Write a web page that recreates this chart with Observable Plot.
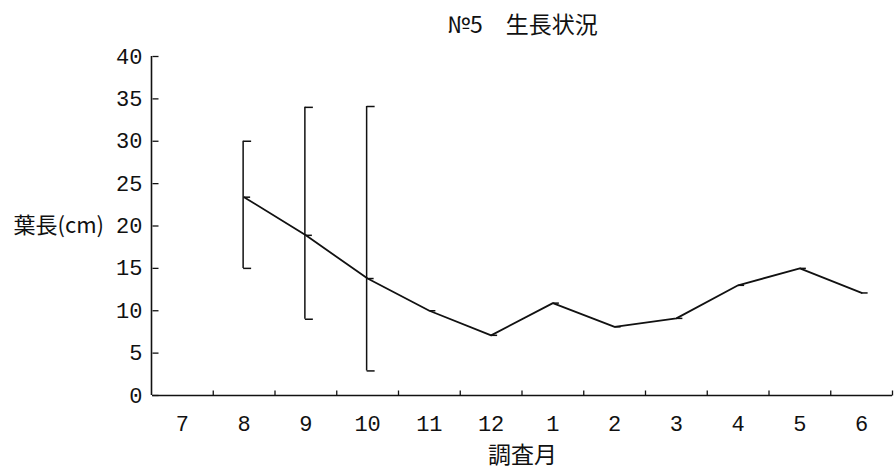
<!DOCTYPE html>
<html>
<head>
<meta charset="utf-8">
<script src="https://cdn.jsdelivr.net/npm/d3@7"></script>
<script src="https://cdn.jsdelivr.net/npm/@observablehq/plot@0.6"></script>
<style>
  html, body { margin: 0; padding: 0; background: #fff; }
  #chart svg { display: block; }
</style>
</head>
<body>
<div id="chart"></div>
<script>
const title = "№5　生長状況";
const yLabel = "葉長(cm)";
const xLabel = "調査月";
const months = ["7","8","9","10","11","12","1","2","3","4","5","6"];
const means  = [null, 23.4, 18.9, 13.8, 10.0, 7.1, 10.9, 8.1, 9.1, 13.0, 15.0, 12.1];
const lows   = [null, 15.0, 9.0, 2.9, null, null, null, null, null, null, null, null];
const highs  = [null, 30.0, 34.0, 34.1, null, null, null, null, null, null, null, null];
const yTicks = [0, 5, 10, 15, 20, 25, 30, 35, 40];

const rows = months.map((m, i) => ({i, m, mean: means[i], lo: lows[i], hi: highs[i]}));
const pts = rows.filter(d => d.mean != null);
const bars = rows.filter(d => d.lo != null);
const boundaries = months.map((m, i) => i + 0.5);
const xDomain = [-0.5, months.length - 0.5];

const rad = s => Math.sqrt(s / Math.PI);
const capRight = {draw(ctx, size) { const r = rad(size); ctx.moveTo(0, 0); ctx.lineTo(r, 0); }};
const capUp = {draw(ctx, size) { const r = rad(size); ctx.moveTo(0, 0); ctx.lineTo(0, -r); }};

const numFont = "'Liberation Mono', 'DejaVu Sans Mono', monospace";
const cjkFont = "'Noto Sans CJK JP', sans-serif";

const chart = Plot.plot({
  width: 894,
  height: 470,
  marginLeft: 152,
  marginRight: 2,
  marginTop: 56,
  marginBottom: 75,
  style: {fontFamily: numFont, background: "#fff", color: "#111"},
  x: {domain: xDomain, range: [151, 892], axis: null},
  y: {domain: [0, 40], axis: null},
  marks: [
    Plot.axisY({ticks: yTicks, tickSize: 0, tickPadding: 10, fontSize: 22, label: null, fontFamily: numFont}),
    Plot.axisX({ticks: months.map((m, i) => i), tickFormat: i => months[i], tickSize: 0, tickPadding: 20, fontSize: 22, label: null, fontFamily: numFont}),
    Plot.ruleX([xDomain[0]], {y1: 0, y2: 40, stroke: "#111", strokeWidth: 1.6}),
    Plot.ruleY([0], {stroke: "#111", strokeWidth: 1.6}),
    Plot.dot(yTicks, {y: d => d, frameAnchor: "left", symbol: capRight, r: 6, fill: "none", stroke: "#111", strokeWidth: 1.3}),
    Plot.dot(boundaries, {x: d => d, frameAnchor: "bottom", symbol: capUp, r: 5, fill: "none", stroke: "#111", strokeWidth: 1.3}),
    Plot.ruleX(bars, {x: "i", y1: "lo", y2: "hi", dx: -1, stroke: "#111", strokeWidth: 1.5}),
    Plot.dot(bars, {x: "i", y: "lo", dx: -1, symbol: capRight, r: 8, fill: "none", stroke: "#111", strokeWidth: 1.5}),
    Plot.dot(bars, {x: "i", y: "hi", dx: -1, symbol: capRight, r: 8, fill: "none", stroke: "#111", strokeWidth: 1.5}),
    Plot.line(pts, {x: "i", y: "mean", stroke: "#111", strokeWidth: 1.8}),
    Plot.dot(pts, {x: "i", y: "mean", symbol: capRight, r: 6, fill: "none", stroke: "#111", strokeWidth: 1.5}),
    Plot.text([title], {frameAnchor: "top", dy: -31, lineAnchor: "middle", fontSize: 23, fontFamily: cjkFont, fill: "#111"}),
    Plot.text([yLabel], {frameAnchor: "left", textAnchor: "start", dx: -139, fontSize: 22, fontFamily: cjkFont, fill: "#111"}),
    Plot.text([xLabel], {frameAnchor: "bottom", dy: 67, fontSize: 23, fontFamily: cjkFont, fill: "#111"})
  ]
});
document.getElementById("chart").appendChild(chart);
</script>
</body>
</html>
